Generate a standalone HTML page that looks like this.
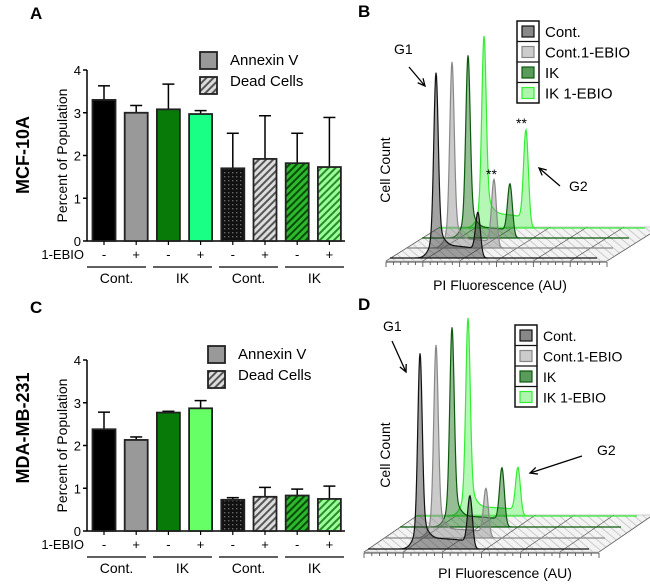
<!DOCTYPE html>
<html><head><meta charset="utf-8"><style>
body{margin:0;background:#fff}
svg{display:block;font-family:"Liberation Sans",sans-serif}
</style></head><body>
<svg id="fig" width="650" height="586" viewBox="0 0 650 586" xmlns="http://www.w3.org/2000/svg">
<defs>
<pattern id="pgrid" width="4" height="4" patternUnits="userSpaceOnUse"><rect width="4" height="4" fill="#111"/><rect x="0" y="0" width="1.4" height="1.4" fill="#666"/></pattern>
<pattern id="phGray" width="5" height="5" patternUnits="userSpaceOnUse" patternTransform="rotate(45)"><rect width="5" height="5" fill="#ddd"/><rect width="2" height="5" fill="#555"/></pattern>
<pattern id="phDG" width="5" height="5" patternUnits="userSpaceOnUse" patternTransform="rotate(45)"><rect width="5" height="5" fill="#2eb82e"/><rect width="2" height="5" fill="#064d06"/></pattern>
<pattern id="phLG" width="5" height="5" patternUnits="userSpaceOnUse" patternTransform="rotate(45)"><rect width="5" height="5" fill="#9f9"/><rect width="2" height="5" fill="#2a8a2a"/></pattern>
<pattern id="phLGC" width="5" height="5" patternUnits="userSpaceOnUse" patternTransform="rotate(45)"><rect width="5" height="5" fill="#9f9"/><rect width="2" height="5" fill="#2a8a2a"/></pattern>
<pattern id="floor" width="6" height="6" patternUnits="userSpaceOnUse" patternTransform="rotate(-50)"><rect width="6" height="6" fill="#f3f3f3"/><rect width="0.7" height="6" fill="#bbb"/></pattern>
</defs>
</svg>
<script>
// ---- bar chart data ----
const barCategories = ["Cont -","Cont +","IK -","IK +","Cont - dead","Cont + dead","IK - dead","IK + dead"];
const valuesA = [3.3, 3.0, 3.08, 2.97, 1.7, 1.92, 1.82, 1.73];
const errorsA = [0.33, 0.17, 0.59, 0.08, 0.82, 1.01, 0.70, 1.16];
const valuesC = [2.38, 2.13, 2.77, 2.87, 0.73, 0.80, 0.83, 0.75];
const errorsC = [0.40, 0.07, 0.03, 0.18, 0.05, 0.22, 0.15, 0.30];
const yTicks = [0, 1, 2, 3, 4];
const signs = ["-","+","-","+","-","+","-","+"];
const groupLabels = ["Cont.","IK","Cont.","IK"];
// ---- histogram data ----
const histSeries = ["Cont.","Cont.1-EBIO","IK","IK 1-EBIO"];
const g1HeightB = [181, 183, 179, 187];
const g2HeightB = [42, 66, 51, 94];
const sLevelB = [14, 10, 12, 16];
const g1HeightD = [192, 190, 196, 195];
const g2HeightD = [50, 47, 56, 46];
const sLevelD = [12, 10, 12, 10];

const NS="http://www.w3.org/2000/svg";
const svg=document.getElementById('fig');
function el(tag,attrs,parent,text){const e=document.createElementNS(NS,tag);for(const k in attrs)e.setAttribute(k,attrs[k]);if(text!==undefined)e.textContent=text;(parent||svg).appendChild(e);return e;}

function barPanel(cfg){
  const g=el('g',{});
  
  
  const y=v=>cfg.y0-(v/4)*(cfg.y0-cfg.y4);
  const xc=i=>104+i*32.2;
  const L=el('text',{x:cfg.lx,y:cfg.ly,'font-size':17,'font-weight':'bold'},g,cfg.letter);
  
  const cl=el('text',{transform:`translate(29,${cfg.cellY}) rotate(-90)`,'text-anchor':'middle','font-size':18,'font-weight':'bold'},g,cfg.cell);
  
  const yt=el('text',{transform:`translate(67,${(cfg.y0+cfg.y4)/2}) rotate(-90)`,'text-anchor':'middle','font-size':14},g,'Percent of Population');
  
  const ax=el('line',{x1:87,y1:cfg.y4,x2:87,y2:cfg.y0,stroke:'#000','stroke-width':1.5},g);
  
  const bx=el('line',{x1:87,y1:cfg.y0,x2:345,y2:cfg.y0,stroke:'#000','stroke-width':1.5},g);
  
  yTicks.forEach(t=>{
    el('line',{x1:83,x2:87,y1:y(t),y2:y(t),stroke:'#000','stroke-width':1.5},g);
    const tl=el('text',{x:81,y:y(t)+5,'text-anchor':'end','font-size':13},g,t);
    
  });
  cfg.values.forEach((v,i)=>{
    const x=xc(i),top=y(v),et=y(v+cfg.errors[i]);
    el('line',{x1:x,x2:x,y1:et,y2:top,stroke:'#000','stroke-width':1.5},g);
    el('line',{x1:x-6,x2:x+6,y1:et,y2:et,stroke:'#000','stroke-width':1.5},g);
    const r=el('rect',{x:x-11.5,y:top,width:23,height:cfg.y0-top,fill:cfg.fills[i],stroke:'#222','stroke-width':1.8},g);
    
    el('line',{x1:x,x2:x,y1:cfg.y0,y2:cfg.y0+4,stroke:'#000','stroke-width':1.2},g);
    const s=el('text',{x:x,y:cfg.y0+18,'text-anchor':'middle','font-size':13},g,signs[i]);
    
  });
  const eb=el('text',{x:84,y:cfg.y0+18,'text-anchor':'end','font-size':13},g,'1-EBIO');
  
  groupLabels.forEach((lab,k)=>{
    const x1=87+k*66,x2=x1+59;
    el('line',{x1:x1,x2:x2,y1:cfg.y0+26,y2:cfg.y0+26,stroke:'#000','stroke-width':1.2},g);
    const t=el('text',{x:(x1+x2)/2,y:cfg.y0+42,'text-anchor':'middle','font-size':14},g,lab);
    
  });
  const lg=el('g',{},g);
  el('rect',{x:cfg.legX,y:cfg.legY,width:17,height:17,fill:'#999',stroke:'#222','stroke-width':1.8},lg);
  el('rect',{x:cfg.legX,y:cfg.legY+25,width:17,height:17,fill:'url(#phGray)',stroke:'#222','stroke-width':1.8},lg);
  el('text',{x:cfg.legX+30,y:cfg.legY+13,'font-size':15},lg,'Annexin V');
  el('text',{x:cfg.legX+30,y:cfg.legY+34,'font-size':15},lg,'Dead Cells');
}
barPanel({name:'panel-a-bar-chart',letter:'A',lx:30,ly:19,cell:'MCF-10A',cellY:155,y0:241,y4:70,values:valuesA,errors:errorsA,
  fills:['#000','#999','#087a08','#19ff86','url(#pgrid)','url(#phGray)','url(#phDG)','url(#phLG)'],legX:200,legY:52});
barPanel({name:'panel-c-bar-chart',letter:'C',lx:30,ly:313,cell:'MDA-MB-231',cellY:428,y0:531,y4:360,values:valuesC,errors:errorsC,
  fills:['#000','#999','#087a08','#66ff66','url(#pgrid)','url(#phGray)','url(#phDG)','url(#phLGC)'],legX:208,legY:346});

const histFill=['rgba(50,50,50,0.45)','rgba(140,140,140,0.45)','rgba(20,110,20,0.45)','rgba(90,240,90,0.45)'];
const histStroke=['#111','#888','#0c5a0c','#33ee33'];
const legFill=['#888','#ccc','#5a9a5a','#aef5ae'];
function histPanel(cfg){
  const g=el('g',{});
  
  const L=el('text',{x:cfg.lx,y:cfg.ly,'font-size':17,'font-weight':'bold'},g,cfg.letter);
  
  const fx=cfg.ox-4,fy=cfg.base0+3,W=cfg.len+14,dx=16*3+6,dy=-cfg.dy*3-4;
  const fl=el('path',{d:`M${fx},${fy} L${fx+W},${fy} L${fx+W+dx},${fy+dy} L${fx+dx},${fy+dy} Z`,fill:'url(#floor)',stroke:'#ccc','stroke-width':1},g);
  
  for(let i=0;i<=6;i++){const x=fx+i*W/6;el('line',{x1:x,x2:x+dx,y1:fy,y2:fy+dy,stroke:'#555','stroke-width':0.7},g);}
  el('line',{x1:fx,x2:fx+W,y1:fy+1,y2:fy+1,stroke:'#444','stroke-width':1},g);
  for(let i=0;i<=30;i++){const x=fx+i*W/30;el('line',{x1:x,x2:x,y1:fy+1,y2:fy+(i%5==0?6:4),stroke:'#444','stroke-width':0.8},g);}
  for(let s=3;s>=0;s--){
    const ox=cfg.ox+s*16,by=cfg.base0-s*cfg.dy;
    let d=`M${ox},${by}`;
    for(let t=0;t<=cfg.len;t+=0.5){
      const sig=1/(1+Math.exp(-(t-cfg.p1-2)/2.5))*1/(1+Math.exp(-(cfg.p2-t-1)/2));
      const h=cfg.g1[s]*(0.9*Math.exp(-Math.pow((t-cfg.p1)/2.2,2)/2)+0.1*Math.exp(-Math.pow((t-cfg.p1)/6,2)/2))
             +cfg.g2[s]*Math.exp(-Math.pow((t-cfg.p2)/2.4,2)/2)+cfg.sl[s]*sig*(1-0.3*(t-cfg.p1)/(cfg.p2-cfg.p1));
      d+=` L${(ox+t).toFixed(1)},${(by-h).toFixed(1)}`;
    }
    const p=el('path',{d:d+` L${ox+cfg.len},${by} Z`,fill:histFill[s],stroke:histStroke[s],'stroke-width':1.2},g);
    
    
  }
  const cc=el('text',{transform:`translate(${cfg.ccx},${cfg.ccy}) rotate(-90)`,'text-anchor':'middle','font-size':14},g,'Cell Count');
  
  const xt=el('text',{x:cfg.xtx,y:cfg.xty,'text-anchor':'middle','font-size':14},g,'PI Fluorescence (AU)');
  
  const lg=el('g',{},g);
  el('rect',{x:cfg.legX,y:cfg.legY,width:22,height:82,fill:'#fff',stroke:'#111','stroke-width':1.5},lg);
  histSeries.forEach((n,i)=>{
    const yy=cfg.legY+i*20.5;
    if(i>0)el('line',{x1:cfg.legX,x2:cfg.legX+22,y1:yy,y2:yy,stroke:'#111','stroke-width':1.2},lg);
    el('rect',{x:cfg.legX+5,y:yy+5,width:12,height:11,fill:legFill[i],stroke:histStroke[i],'stroke-width':1.2},lg);
    el('text',{x:cfg.legX+28,y:yy+16,'font-size':cfg.lfs},lg,n);
  });
  cfg.extra(g);
}
function arrow(g,x1,y1,x2,y2,name){
  const a=el('g',{},g);
  el('line',{x1,y1,x2,y2,stroke:'#000','stroke-width':1.3},a);
  const ang=Math.atan2(y2-y1,x2-x1),l=8;
  el('path',{d:`M${x2-l*Math.cos(ang-0.45)},${y2-l*Math.sin(ang-0.45)} L${x2},${y2} L${x2-l*Math.cos(ang+0.45)},${y2-l*Math.sin(ang+0.45)}`,fill:'none',stroke:'#000','stroke-width':1.3},a);
}
histPanel({name:'panel-b-histogram',letter:'B',lx:358,ly:17,ox:390,base0:258,dy:10,len:207,p1:46,p2:88,g1:g1HeightB,g2:g2HeightB,sl:sLevelB,
  ccx:390,ccy:170,xtx:500,xty:290,legX:517,legY:21,lfs:15,extra:g=>{
    el('text',{x:394,y:54,'font-size':14},g,'G1');arrow(g,409,67,425,86,'g1-arrow');
    el('text',{x:569,y:191,'font-size':14},g,'G2');arrow(g,560,186,539,168,'g2-arrow');
    el('text',{x:516,y:128,'font-size':14},g,'**');el('text',{x:486,y:179,'font-size':14},g,'**');
  }});
histPanel({name:'panel-d-histogram',letter:'D',lx:358,ly:310,ox:368,base0:549,dy:11,len:221,p1:52,p2:102,g1:g1HeightD,g2:g2HeightD,sl:sLevelD,
  ccx:390,ccy:455,xtx:505,xty:578,legX:515,legY:325,lfs:14,extra:g=>{
    el('text',{x:383,y:331,'font-size':14},g,'G1');arrow(g,392,341,406,372,'g1-arrow');
    el('text',{x:597,y:455,'font-size':14},g,'G2');arrow(g,582,456,530,473,'g2-arrow');
  }});
</script>
</body></html>
